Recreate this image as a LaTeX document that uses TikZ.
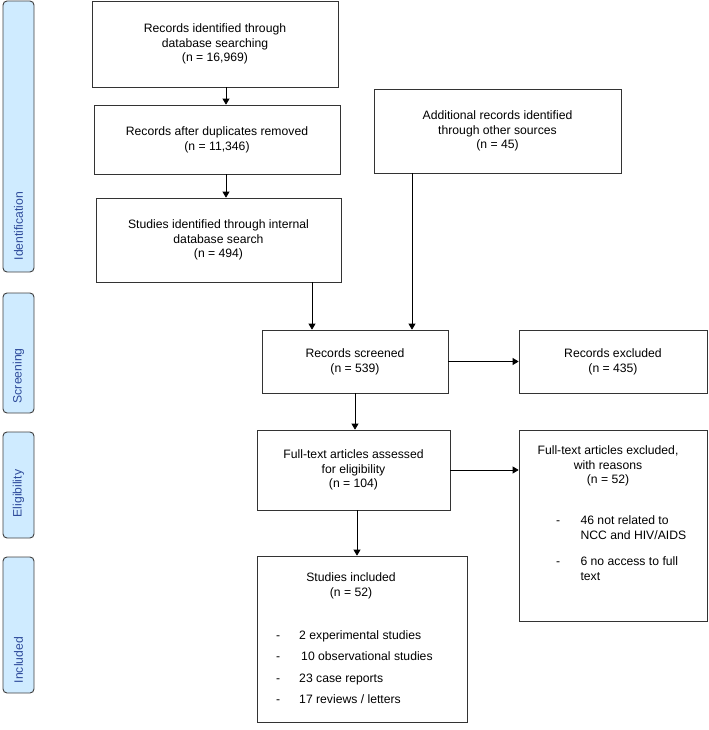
\documentclass[tikz,border=0pt]{standalone}
\usepackage{fontspec}
\setmainfont{Liberation Sans}
\usetikzlibrary{arrows.meta,calc}
\definecolor{stagebg}{HTML}{CFEBFF}
\definecolor{stagefg}{HTML}{2E4B9B}
\newcommand{\pxl}{0.03cm}
\newcommand{\boxfont}{\fontsize{10.4}{12.6}\selectfont}
\tikzset{
	box/.style={draw=black!80, line width=0.6pt, inner sep=0pt, align=center, font=\boxfont},
	stage/.style={draw=black!75, fill=stagebg, line width=0.8pt, rounded corners=4*\pxl, minimum width=31*\pxl, inner sep=0pt},
	stagetxt/.style={text=stagefg, font=\boxfont, rotate=90, anchor=west, inner sep=0pt},
	txt/.style={font=\boxfont, inner sep=0pt},
	arr/.style={-{Triangle[length=6*\pxl, width=7*\pxl]}, line width=0.6pt}
}

\begin{document}
\begin{tikzpicture}[x=\pxl, y=-\pxl]
			%%%%% START %%%%%
			\useasboundingbox (0,0) rectangle (709,730);
			
			% stages on the left
			\node[stage, minimum height=271*\pxl] (ident) at (18.5,136.5) {};
			\node[stage, minimum height=120*\pxl] (screen) at (18.5,353) {};
			\node[stage, minimum height=106*\pxl] (elig) at (18.5,485) {};
			\node[stage, minimum height=136*\pxl] (incl) at (18.5,625) {};
			\node[stagetxt] (identtxt) at ($(ident.south)+(0,-12)$) {Identification};
			\node[stagetxt] (screentxt) at ($(screen.south)+(0,-10)$) {Screening};
			\node[stagetxt] (eligtxt) at ($(elig.south)+(0,-21)$) {Eligibility};
			\node[stagetxt] (incltxt) at ($(incl.south)+(0,-10)$) {Included};
			
			% identification
			\node[box, minimum width=246*\pxl, minimum height=86*\pxl] (search) at (215,44)
				{Records identified through\\database searching\\(n = 16,969)};
			\node[box, minimum width=246*\pxl, minimum height=69*\pxl] (dupl) at (217,139.5)
				{Records after duplicates removed\\(n = 11,346)};
			\node[box, minimum width=245*\pxl, minimum height=84*\pxl] (internal) at (218.5,240)
				{Studies identified through internal\\database search\\(n = 494)};
			\node[box, minimum width=247*\pxl, minimum height=84*\pxl] (other) at (497.5,131)
				{Additional records identified\\through other sources\\(n = 45)};
			
			% screening
			\node[box, minimum width=186*\pxl, minimum height=63*\pxl] (screened) at (355,361.5)
				{Records screened\\(n = 539)};
			\node[box, minimum width=188*\pxl, minimum height=63*\pxl] (excluded) at (613,361.5)
				{Records excluded\\(n = 435)};
			
			% eligibility
			\node[box, minimum width=193*\pxl, minimum height=80*\pxl] (assessed) at (353.5,470)
				{Full-text articles assessed\\for eligibility\\(n = 104)};
			\node[box, minimum width=188*\pxl, minimum height=191*\pxl] (ftexcl) at (613,525.5) {};
			\node[txt, align=center] (ftexclhd) at (608,466)
				{Full-text articles excluded,\\with reasons\\(n = 52)};
			\node[txt, align=left, anchor=north west] (ftexclls) at (556,514)
				{\begin{tabular}{@{}p{0.73cm}@{}l@{}}
					- & 46 not related to\\
					  & NCC and HIV/AIDS\\[10pt]
					- & 6 no access to full\\
					  & text
				\end{tabular}};
			
			% included
			\node[box, minimum width=210*\pxl, minimum height=166*\pxl] (included) at (362,639) {};
			\node[txt, align=center] (includedhd) at (351,586)
				{Studies included\\(n = 52)};
			\node[txt, align=left, anchor=north west] (includedls) at (276,624)
				{\renewcommand{\arraystretch}{1.45}%
				\begin{tabular}{@{}p{0.69cm}@{}l@{}}
					- & 2 experimental studies\\
					- & \hspace{0.06cm}10 observational studies\\
					- & 23 case reports\\
					- & 17 reviews / letters
				\end{tabular}};
			
			% connectors
			\coordinate (colA) at (226,0);
			\coordinate (colB) at (312,0);
			\coordinate (colC) at (412,0);
			\coordinate (colD) at (357,0);
			\draw[arr] (search.south -| colA) -- (dupl.north -| colA);
			\draw[arr] (dupl.south -| colA) -- (internal.north -| colA);
			\draw[arr] (internal.south -| colB) -- (screened.north -| colB);
			\draw[arr] (other.south -| colC) -- (screened.north -| colC);
			\draw[arr] (screened.east) -- (excluded.west);
			\draw[arr] (screened.south) -- (screened.south |- assessed.north);
			\draw[arr] (assessed.east) -- (assessed.east -| ftexcl.west);
			\draw[arr] (assessed.south -| colD) -- (included.north -| colD);
			
			%%%%% END %%%%%
\end{tikzpicture}
\end{document}
